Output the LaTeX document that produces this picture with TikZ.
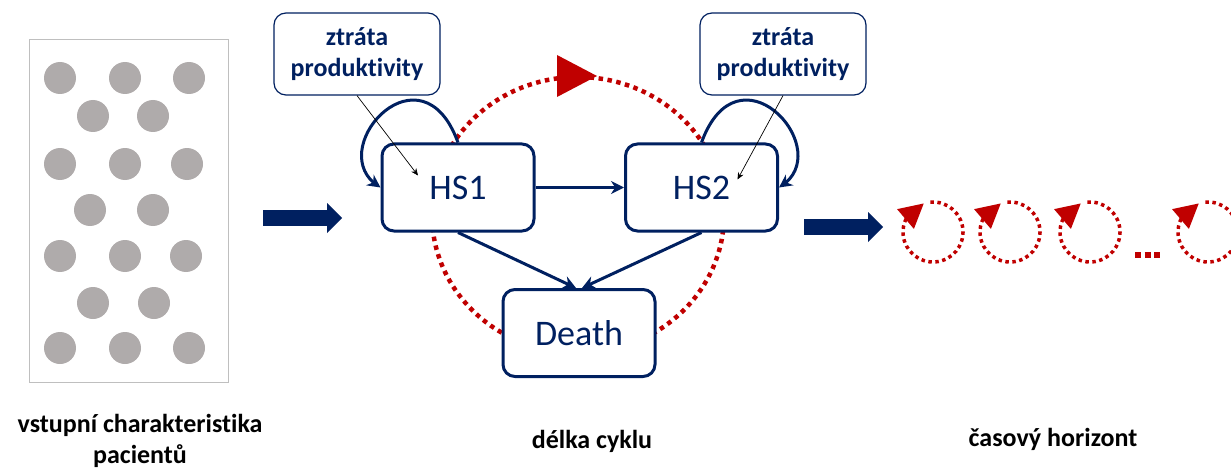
\documentclass[tikz,border=0pt]{standalone}
\usepackage{fontspec}
\setmainfont{Carlito}[Ligatures=NoCommon]
\usetikzlibrary{arrows.meta,bending}

\definecolor{navy}{RGB}{0,32,96}
\definecolor{cyclered}{RGB}{192,0,0}
\definecolor{dotgray}{RGB}{175,171,171}
\definecolor{panelgray}{RGB}{191,191,191}

\tikzset{
  hsbox/.style={draw=navy, line width=3pt, rounded corners=12pt, fill=white,
    minimum width=152pt, minimum height=87pt, inner sep=0pt,
    text=navy, font=\fontsize{36}{40}\selectfont},
  lossbox/.style={draw=navy, line width=1.2pt, rounded corners=12pt, fill=white,
    minimum width=166pt, minimum height=82pt, inner sep=0pt, align=center,
    text=navy, font=\bfseries\fontsize{26}{31}\selectfont},
  panel/.style={draw=panelgray, line width=1pt, minimum width=199pt, minimum height=342pt},
  caption/.style={inner sep=0pt, align=center, font=\bfseries\fontsize{26}{31}\selectfont},
  transition/.style={navy, line width=3pt, -{Stealth[length=13pt,width=13pt]}},
  note/.style={black, line width=0.7pt, -{Stealth[length=7pt,width=6pt]}},
  bigarrow/.style={navy, line width=16pt, -{Triangle[length=15pt,width=30pt,line width=0pt]}},
  cycleline/.style={cyclered, line width=4.5pt, dash pattern=on 4.5pt off 4.5pt},
  smallcycle/.style={cyclered, line width=3.5pt, dash pattern=on 3.5pt off 3.5pt,
    -{Triangle[length=24pt,width=26pt,flex,line width=0pt]}},
}

\begin{document}
\begin{tikzpicture}[x=1pt,y=1pt]
  \useasboundingbox (0,0) rectangle (1231,-468);
  \clip (0,0) rectangle (1231,-468);

  % patients
  \node[panel] (pac) at (128.5,-211) {};
  \foreach \x/\y in {60/78,125/78,189/78, 93/116,153/116,
                     60/164,125/164,187/164, 90/210,153/210,
                     60/256,125/256,186/256, 93/303,154/303,
                     60/348,125/348,189/348}
    \fill[dotgray] (\x,-\y) circle[radius=16];
  \node[caption] (pactext) at (140,-441) {vstupní charakteristika\\pacientů};

  \coordinate (in-start) at (263,-218);
  \coordinate (in-end) at (342,-218);
  \draw[bigarrow] (in-start) -- (in-end);

  % one cycle
  \draw[cycleline] (578,-215) ellipse[x radius=146, y radius=138];
  \fill[cyclered] (557,-55) -- (597,-76) -- (557,-97) -- cycle;

  \node[hsbox] (hs1) at (458,-187.5) {HS1};
  \node[hsbox] (hs2) at (701.5,-187.5) {HS2};
  \node[hsbox] (death) at (579,-333) {Death};

  \node[lossbox] (loss1) at (357,-54) {ztráta\\produktivity};
  \node[lossbox] (loss2) at (783,-54) {ztráta\\produktivity};

  \draw[transition] (hs1.north) .. controls +(110:110) and +(150:70) .. (hs1.west);
  \draw[transition] (hs2.north) .. controls +(70:110) and +(30:70) .. (hs2.east);
  \draw[transition] (hs1.east) -- (hs2.west);
  \draw[transition] (hs1.south) -- ([xshift=-3pt]death.north);
  \draw[transition] (hs2.south) -- ([xshift=3pt]death.north);

  \draw[note] (loss1.south) -- ([xshift=-40pt,yshift=12pt]hs1.center);
  \draw[note] (loss2.south) -- ([xshift=36pt,yshift=8pt]hs2.center);

  \node[caption, anchor=base] (cyclen) at (592,-448) {délka cyklu};

  % time horizon
  \coordinate (out-start) at (804,-227);
  \coordinate (out-end) at (883,-227);
  \draw[bigarrow] (out-start) -- (out-end);
  \foreach \cx in {933,1010,1090,1208}
    \draw[smallcycle] (\cx,-232) ++(95:30) arc[start angle=95, end angle=-252, radius=30];
  \draw[cyclered, line width=6pt, dash pattern=on 6pt off 3.5pt] (1135,-255) -- (1160,-255);
  \node[caption, anchor=base] (horizon) at (1053,-446) {časový horizont};
\end{tikzpicture}
\end{document}
